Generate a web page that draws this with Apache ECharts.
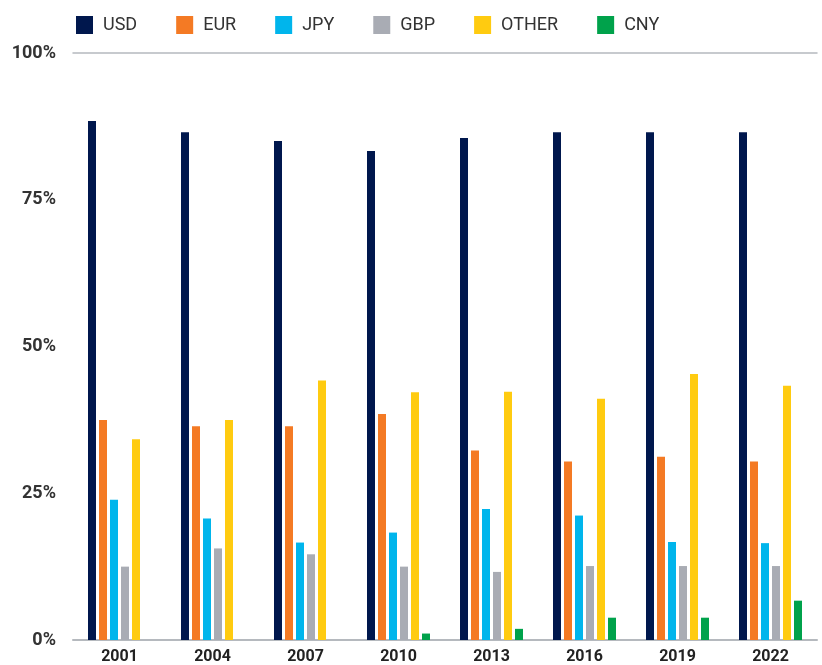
<!DOCTYPE html>
<html>
<head>
<meta charset="utf-8">
<script src="https://cdn.jsdelivr.net/npm/echarts@6/dist/echarts.min.js"></script>
<style>html,body{margin:0;padding:0;background:#fff;}#chart{width:822px;height:665px;}</style>
</head>
<body>
<div id="chart"></div>
<script>
const categories = ['2001','2004','2007','2010','2013','2016','2019','2022'];
const usd   = [88.4, 86.5, 85.0, 83.3, 85.5, 86.5, 86.5, 86.5];
const eur   = [37.5, 36.4, 36.4, 38.5, 32.3, 30.4, 31.2, 30.4];
const jpy   = [23.9, 20.7, 16.6, 18.3, 22.3, 21.2, 16.7, 16.5];
const gbp   = [12.5, 15.6, 14.6, 12.5, 11.6, 12.6, 12.6, 12.6];
const other = [34.2, 37.5, 44.2, 42.2, 42.3, 41.1, 45.3, 43.3];
const cny   = [0, 0, 0, 1.1, 1.9, 3.8, 3.8, 6.7];
const yTicks = [0, 25, 50, 75, 100];

const names = ['USD','EUR','JPY','GBP','OTHER','CNY'];
const colors = ['#00174D','#F47A24','#00B5EC','#A9ACB4','#FFCB10','#00A24B'];
const values = [usd, eur, jpy, gbp, other, cny];

const chart = echarts.init(document.getElementById('chart'));
chart.setOption({
  animation: false,
  color: colors,
  legend: {
    left: 71, top: 11,
    itemWidth: 17, itemHeight: 18, itemGap: 39,
    icon: 'rect',
    data: names,
    textStyle: { fontFamily: 'Roboto', fontSize: 18, color: '#333', padding: [0,0,0,5] }
  },
  grid: { left: 73, right: 5, top: 53, bottom: 22, containLabel: false },
  xAxis: [{
    type: 'category', data: categories,
    axisTick: { show: false },
    axisLine: { lineStyle: { color: '#B5B9BE', width: 2 } },
    axisLabel: { fontFamily: 'Roboto', fontWeight: 'bold', fontSize: 16, color: '#222', margin: 9 }
  }, {
    type: 'category', data: categories, position: 'top',
    axisTick: { show: false }, axisLabel: { show: false },
    axisLine: { show: true, lineStyle: { color: '#B5B9BE', width: 1.5 } }
  }],
  yAxis: {
    type: 'value', min: yTicks[0], max: yTicks[yTicks.length-1], interval: 25,
    splitLine: { show: false },
    axisLine: { show: false }, axisTick: { show: false },
    axisLabel: { formatter: '{value}%', fontFamily: 'Roboto', fontWeight: 'bold', fontSize: 18, color: '#333', margin: 17 }
  },
  series: names.map((n, i) => ({
    name: n, type: 'bar', data: values[i],
    barWidth: 8, barGap: '37.5%',
    itemStyle: { color: colors[i] }
  }))
});
</script>
</body>
</html>
